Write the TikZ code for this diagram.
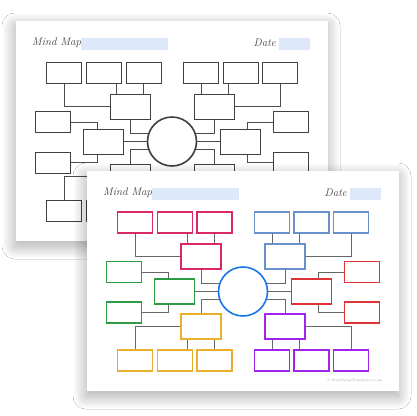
\documentclass[tikz,border=0pt]{standalone}
\usetikzlibrary{calc,shadows.blur}

\definecolor{barblue}{RGB}{221,232,251}
\definecolor{fpink}{RGB}{217,40,99}
\definecolor{fblue}{RGB}{104,146,201}
\definecolor{fgreen}{RGB}{46,155,68}
\definecolor{fred}{RGB}{222,52,56}
\definecolor{forange}{RGB}{234,174,44}
\definecolor{fpurple}{RGB}{160,36,236}
\definecolor{fhub}{RGB}{26,118,232}

% one sheet of the mind map, #1 = prefix of its node names
\newcommand{\mindpage}[1]{%
    \node[pagebox] (#1page) at (156,110) {};

    \node[heading, anchor=west] (#1name) at (16,22) {Mind Map};
    \node[bar, minimum width=87pt, anchor=west] (#1namebar) at (65,23) {};
    \node[heading, anchor=east] (#1date) at (260,22) {Date};
    \node[bar, minimum width=31pt, anchor=west] (#1datebar) at (263,23) {};

    \foreach \x [count=\i] in {48,88,127.5} {
        \node[smallbox, draw=cpink] (#1tl\i) at (\x,51.5) {};
        \node[smallbox, draw=corange] (#1bl\i) at (\x,189.5) {};
    }
    \foreach \x [count=\i] in {185,224.5,264} {
        \node[smallbox, draw=cblue] (#1tr\i) at (\x,51.5) {};
        \node[smallbox, draw=cpurple] (#1br\i) at (\x,189.5) {};
    }
    \node[smallbox, draw=cgreen] (#1gs1) at (37,101) {};
    \node[smallbox, draw=cgreen] (#1gs2) at (37,141.5) {};
    \node[smallbox, draw=cred] (#1rs1) at (275,101) {};
    \node[smallbox, draw=cred] (#1rs2) at (275,141.5) {};

    \node[midbox, draw=cpink] (#1ml) at (114,85.5) {};
    \node[midbox, draw=cblue] (#1mr) at (198,85.5) {};
    \node[midbox, draw=cgreen] (#1gm) at (87.5,120.5) {};
    \node[midbox, draw=cred] (#1rm) at (224.5,120.5) {};
    \node[midbox, draw=corange] (#1om) at (114,155.5) {};
    \node[midbox, draw=cpurple] (#1pm) at (198,155.5) {};

    \node[hub] (#1c) at (156,120.5) {};

    % left branches
    \coordinate (#1a2) at ($(#1tl2.south)+(12,0)$);
    \coordinate (#1b2) at ($(#1bl2.north)+(12,0)$);
    \draw[link] (#1tl1.south) |- (#1ml.west);
    \draw[link] (#1a2) -- (#1a2 |- #1ml.north);
    \draw[link] (#1tl3.south) -- (#1tl3.south |- #1ml.north);
    \draw[link] (#1ml.south) |- (#1c.162);
    \draw[link] (#1gm.east) -- (#1c.west);
    \draw[link] (#1gs1.east) -| ($(#1gm.north)+(-6.5,0)$);
    \draw[link] (#1gs2.east) -| ($(#1gm.south)+(-6.5,0)$);
    \draw[link] (#1c.198) -| (#1om.north);
    \draw[link] (#1om.west) -| (#1bl1.north);
    \draw[link] (#1b2) -- (#1b2 |- #1om.south);
    \draw[link] (#1bl3.north) -- (#1bl3.north |- #1om.south);

    % right branches
    \coordinate (#1c2) at ($(#1tr2.south)+(-12,0)$);
    \coordinate (#1d2) at ($(#1br2.north)+(-12,0)$);
    \draw[link] (#1tr3.south) |- (#1mr.east);
    \draw[link] (#1c2) -- (#1c2 |- #1mr.north);
    \draw[link] (#1tr1.south) -- (#1tr1.south |- #1mr.north);
    \draw[link] (#1mr.south) |- (#1c.18);
    \draw[link] (#1rm.west) -- (#1c.east);
    \draw[link] (#1rs1.west) -| ($(#1rm.north)+(6.5,0)$);
    \draw[link] (#1rs2.west) -| ($(#1rm.south)+(6.5,0)$);
    \draw[link] (#1c.342) -| (#1pm.north);
    \draw[link] (#1pm.east) -| (#1br3.north);
    \draw[link] (#1d2) -- (#1d2 |- #1pm.south);
    \draw[link] (#1br1.north) -- (#1br1.north |- #1pm.south);

    \node[font=\fontsize{3.5}{4}\selectfont, text=black!35, inner sep=0pt, anchor=east]
        (#1copy) at (296,210) {\copyright{} MindMapTemplates.com};
}

\begin{document}
\begin{tikzpicture}[x=1pt, y=-1pt,
    pagebox/.style={fill=white, minimum width=312pt, minimum height=220pt, inner sep=0pt,
        blur shadow={shadow xshift=-1pt, shadow yshift=-5pt, shadow blur radius=13pt,
            shadow blur steps=30, shadow opacity=35}},
    bar/.style={fill=barblue, inner sep=0pt, minimum height=12pt},
    heading/.style={font=\fontsize{11}{11}\selectfont\itshape, text=black!75, inner sep=0pt},
    boxline/.style={line width=1.4pt},
    smallbox/.style={boxline, minimum width=35pt, minimum height=21pt, inner sep=0pt},
    midbox/.style={boxline, minimum width=40pt, minimum height=25pt, inner sep=0pt},
    hub/.style={circle, draw=chub, line width=1.6pt, minimum size=49pt, inner sep=0pt},
    link/.style={draw=clink, line width=1pt},
]
    \fill[white] (0,0) rectangle (416,416);
    \useasboundingbox (0,0) rectangle (416,416);

    % back sheet, no colours
    \begin{scope}[shift={(16,21)}, boxline/.style={line width=1pt}]
        \colorlet{cpink}{black!75}\colorlet{cblue}{black!75}
        \colorlet{cgreen}{black!75}\colorlet{cred}{black!75}
        \colorlet{corange}{black!75}\colorlet{cpurple}{black!75}
        \colorlet{chub}{black!75}\colorlet{clink}{black!70}
        \mindpage{b}
    \end{scope}

    % front sheet
    \begin{scope}[shift={(87,171)}]
        \colorlet{cpink}{fpink}\colorlet{cblue}{fblue}
        \colorlet{cgreen}{fgreen}\colorlet{cred}{fred}
        \colorlet{corange}{forange}\colorlet{cpurple}{fpurple}
        \colorlet{chub}{fhub}\colorlet{clink}{black!60}
        \mindpage{f}
    \end{scope}
\end{tikzpicture}
\end{document}
